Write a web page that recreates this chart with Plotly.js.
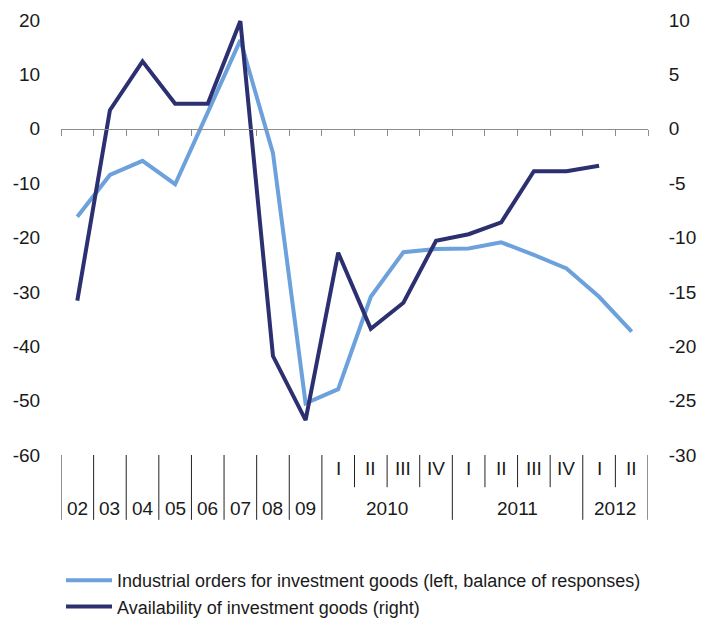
<!DOCTYPE html>
<html>
<head>
<meta charset="utf-8">
<script src="https://cdn.plot.ly/plotly-3.0.1.min.js"></script>
<style>
html,body{margin:0;padding:0;background:#fff;}
#chart{width:703px;height:622px;}
</style>
</head>
<body>
<div id="chart"></div>
<script>
// Categories (annual 2002-2009, then quarterly 2010 Q1 - 2012 Q2)
var categories = ['02','03','04','05','06','07','08','09',
  '2010 I','2010 II','2010 III','2010 IV',
  '2011 I','2011 II','2011 III','2011 IV',
  '2012 I','2012 II'];

// Bottom axis labels
var annualLabels = ['02','03','04','05','06','07','08','09'];
var quarterLabels = ['I','II','III','IV','I','II','III','IV','I','II'];
var yearGroupLabels = ['2010','2011','2012'];
var yearGroupSizes = [4, 4, 2];

// Series
var ordersName = 'Industrial orders for investment goods (left, balance of responses)';
var orders = [-16.2, -8.5, -5.9, -10.2, 3.0, 16.3, -4.5, -50.5,
  -47.9, -30.9, -22.7, -22.1,
  -22.0, -20.9, -23.2, -25.7,
  -30.9, -37.3];

var availName = 'Availability of investment goods (right)';
var availability = [-15.8, 1.7, 6.2, 2.3, 2.3, 9.9, -20.9, -26.8,
  -11.4, -18.4, -16.0, -10.3,
  -9.7, -8.6, -3.9, -3.9,
  -3.4, null];

var leftTicks = [-60, -50, -40, -30, -20, -10, 0, 10, 20];
var leftTickText = ['-60', '-50', '-40', '-30', '-20', '-10', '0', '10', '20'];
var rightTicks = [-30, -25, -20, -15, -10, -5, 0, 5, 10];
var rightTickText = ['-30', '-25', '-20', '-15', '-10', '-5', '0', '5', '10'];

var txtColor = '#1a1a1a';
var fontFam = 'Liberation Sans, Arial, sans-serif';
var lblSize = 19;

var traces = [
  {x: categories, y: orders, name: ordersName, type: 'scatter', mode: 'lines',
   line: {color: '#6CA1DB', width: 4}, xaxis: 'x', yaxis: 'y'},
  {x: categories, y: availability, name: availName, type: 'scatter', mode: 'lines',
   line: {color: '#2D3070', width: 4}, xaxis: 'x', yaxis: 'y2', connectgaps: false}
];

// Build bottom category separators and labels
var shapes = [];
var annotations = [];
var sepLong = -0.149, sepShort = -0.074;
var nAnnual = annualLabels.length;
function sep(pos, yb){
  shapes.push({type: 'line', xref: 'x', yref: 'paper', x0: pos, x1: pos, y0: 0, y1: yb,
    line: {color: '#222', width: 1}});
}
for (var i = 0; i < nAnnual; i++) {
  sep(i - 0.5, sepLong);
  annotations.push({xref: 'x', yref: 'paper', x: i, y: -0.122, text: annualLabels[i],
    showarrow: false, xanchor: 'center', yanchor: 'middle',
    font: {size: lblSize, color: txtColor, family: fontFam}});
}
var idx = nAnnual;
var qi = 0;
for (var g = 0; g < yearGroupLabels.length; g++) {
  var start = idx;
  sep(start - 0.5, sepLong);
  for (var q = 0; q < yearGroupSizes[g]; q++) {
    if (q > 0) sep(idx - 0.5, sepShort);
    annotations.push({xref: 'x', yref: 'paper', x: idx, y: -0.030, text: quarterLabels[qi],
      showarrow: false, xanchor: 'center', yanchor: 'middle',
      font: {size: lblSize, color: txtColor, family: fontFam}});
    idx++; qi++;
  }
  annotations.push({xref: 'x', yref: 'paper', x: (start + idx - 1) / 2, y: -0.122,
    text: yearGroupLabels[g], showarrow: false, xanchor: 'center', yanchor: 'middle',
    font: {size: lblSize, color: txtColor, family: fontFam}});
}
sep(idx - 0.5, sepLong);

var layout = {
  width: 703, height: 622,
  margin: {l: 61, r: 55, t: 20, b: 167, pad: 0, autoexpand: false},
  paper_bgcolor: '#fff', plot_bgcolor: '#fff',
  font: {family: fontFam, color: txtColor, size: lblSize},
  showlegend: true,
  legend: {orientation: 'v', x: 0.0, xanchor: 'left', y: -0.246, yanchor: 'top',
    font: {size: 18, color: txtColor, family: fontFam}, itemwidth: 46,
    bgcolor: 'rgba(0,0,0,0)', tracegroupgap: 0},
  xaxis: {type: 'category', categoryorder: 'array', categoryarray: categories,
    range: [-0.5, categories.length - 0.5], anchor: 'free', position: 0.75,
    showline: true, linecolor: '#8c8c8c', linewidth: 1,
    ticks: 'outside', ticklen: 6, tickcolor: '#8c8c8c', tickwidth: 1,
    tickson: 'boundaries', showticklabels: false, showgrid: false, zeroline: false,
    fixedrange: true},
  yaxis: {range: [-60, 20], tickmode: 'array', tickvals: leftTicks, ticktext: leftTickText,
    showgrid: false, zeroline: false, showline: false,
    ticks: 'outside', ticklen: 16, tickcolor: 'rgba(0,0,0,0)',
    tickfont: {size: lblSize, color: txtColor, family: fontFam}},
  yaxis2: {range: [-30, 10], tickmode: 'array', tickvals: rightTicks, ticktext: rightTickText,
    overlaying: 'y', side: 'right', anchor: 'x',
    showgrid: false, zeroline: false, showline: false,
    ticks: 'outside', ticklen: 16, tickcolor: 'rgba(0,0,0,0)',
    tickfont: {size: lblSize, color: txtColor, family: fontFam}},
  shapes: shapes,
  annotations: annotations
};

Plotly.newPlot('chart', traces, layout, {displayModeBar: false, staticPlot: true});
</script>
</body>
</html>
